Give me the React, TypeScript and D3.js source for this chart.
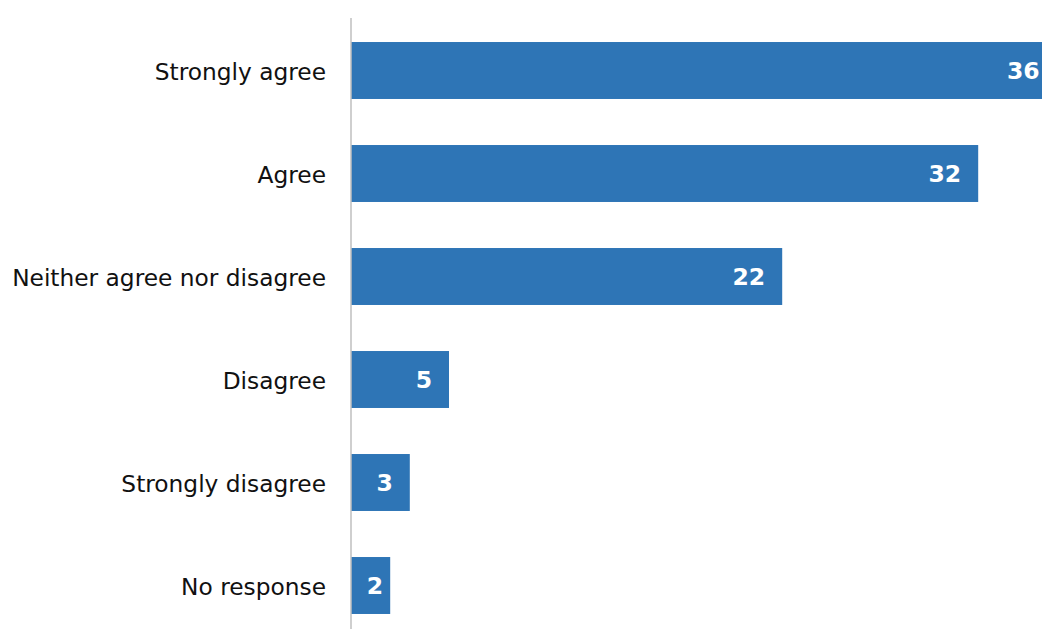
import React from "react";
import * as d3 from "d3";

const categories = [
  "Strongly agree",
  "Agree",
  "Neither agree nor disagree",
  "Disagree",
  "Strongly disagree",
  "No response",
];
const values = [36, 32, 22, 5, 3, 2];

const W = 1042;
const H = 629;

export default function App() {
  const x = d3.scaleLinear().domain([0, 10]).range([351, 351 + 196]);
  const y = d3
    .scaleBand<string>()
    .domain(categories)
    .range([19, 637])
    .paddingInner(0.447)
    .paddingOuter(0.2235);
  const font = "'DejaVu Sans', Verdana, sans-serif";
  const digitW = 16;
  return (
    <svg
      width={W}
      height={H}
      style={{ position: "absolute", left: 0, top: 0, background: "#fff" }}
    >
      {categories.map((c, i) => {
        const y0 = y(c)!;
        const bw = y.bandwidth();
        const v = values[i];
        const lw = String(v).length * digitW;
        const lx = Math.max(x(v) - 17, x(0) + 16 + lw);
        return (
          <g key={c}>
            <rect
              x={x(0)}
              y={y0}
              width={x(v) - x(0)}
              height={bw}
              fill="#2E75B6"
            />
            <text
              x={lx}
              y={y0 + bw / 2}
              dy="0.37em"
              textAnchor="end"
              fill="#fff"
              fontWeight="bold"
              fontSize={23.5}
              fontFamily={font}
            >
              {v}
            </text>
            <text
              x={326}
              y={y0 + bw / 2}
              dy="0.4em"
              textAnchor="end"
              fill="#111"
              fontSize={23.3}
              fontFamily={font}
            >
              {c}
            </text>
          </g>
        );
      })}
      <line x1={351} x2={351} y1={18} y2={H} stroke="#BFBFBF" strokeWidth={1.5} />
    </svg>
  );
}
